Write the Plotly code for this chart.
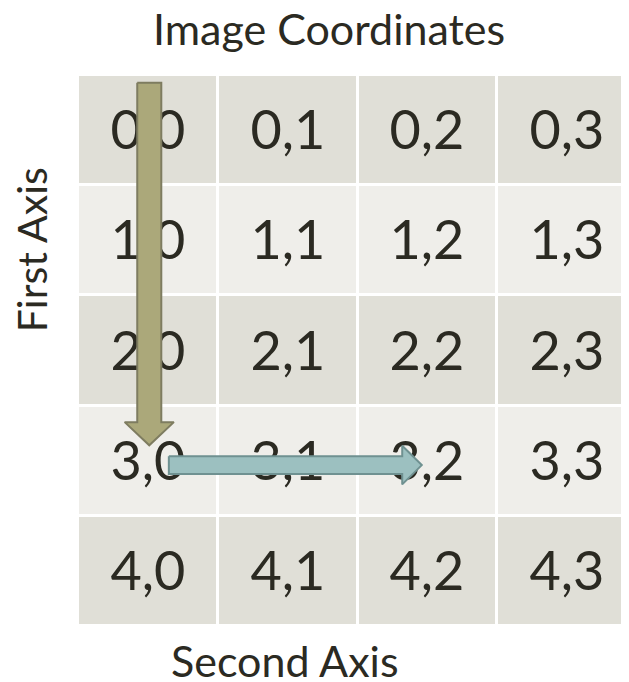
import plotly.graph_objects as go

# grid of image coordinates (row, column)
rows = [0, 1, 2, 3, 4]
cols = [0, 1, 2, 3]
cell_labels = [[f"{r},{c}" for c in cols] for r in rows]
row_shade = [[r % 2 for c in cols] for r in rows]  # 0 = darker band, 1 = lighter band

# arrows: (start cell, end cell)
first_axis_arrow = {"col": 0, "row_from": 0, "row_to": 3}
second_axis_arrow = {"row": 3, "col_from": 0, "col_to": 2}

FONT = "Lato"
TEXT_COLOR = "#2b2a22"

fig = go.Figure()

fig.add_trace(go.Heatmap(
    z=row_shade,
    x=cols,
    y=rows,
    text=cell_labels,
    texttemplate="%{text}",
    textfont=dict(family=FONT, size=54, color=TEXT_COLOR),
    colorscale=[[0, "#e0dfd7"], [1, "#efeeea"]],
    showscale=False,
    xgap=3,
    ygap=3,
    hoverinfo="skip",
))


def arrow_polygon(x0, x1, y0, y1, shaft, head, head_len, vertical):
    # polygon of a block arrow going from (x0,y0) to (x1,y1)
    if vertical:
        xc = x0
        pts = [(xc - shaft, y0), (xc + shaft, y0), (xc + shaft, y1 - head_len),
               (xc + head, y1 - head_len), (xc, y1), (xc - head, y1 - head_len),
               (xc - shaft, y1 - head_len), (xc - shaft, y0)]
    else:
        yc = y0
        pts = [(x0, yc - shaft), (x1 - head_len, yc - shaft), (x1 - head_len, yc - head),
               (x1, yc), (x1 - head_len, yc + head), (x1 - head_len, yc + shaft),
               (x0, yc + shaft), (x0, yc - shaft)]
    return [p[0] for p in pts], [p[1] for p in pts]


# vertical arrow along the first axis
a = first_axis_arrow
vx, vy = arrow_polygon(a["col"] + 0.01, a["col"] + 0.01,
                       a["row_from"] - 0.43, a["row_to"] - 0.14,
                       0.086, 0.176, 0.21, True)
fig.add_trace(go.Scatter(x=vx, y=vy, fill="toself", fillcolor="#aba87a",
                         line=dict(color="#7e7c60", width=2), mode="lines",
                         hoverinfo="skip", showlegend=False))

# horizontal arrow along the second axis
b = second_axis_arrow
hx, hy = arrow_polygon(b["col_from"] + 0.15, b["col_to"] - 0.04,
                       b["row"] + 0.04, b["row"] + 0.04,
                       0.08, 0.175, 0.14, False)
fig.add_trace(go.Scatter(x=hx, y=hy, fill="toself", fillcolor="#9cc0c0",
                         line=dict(color="#6f9191", width=2), mode="lines",
                         hoverinfo="skip", showlegend=False))

fig.update_xaxes(range=[-0.5, 3.5], visible=False, fixedrange=True)
fig.update_yaxes(range=[4.5, -0.5], visible=False, fixedrange=True)

label_font = dict(family=FONT, size=43, color=TEXT_COLOR)
fig.add_annotation(text="Image Coordinates", x=0.449, y=1.085, xref="paper", yref="paper",
                   xanchor="center", yanchor="middle", showarrow=False, font=label_font)
fig.add_annotation(text="First Axis", x=-0.084, y=0.682, xref="paper", yref="paper",
                   xanchor="center", yanchor="middle", textangle=-90, showarrow=False,
                   font=dict(family=FONT, size=41, color=TEXT_COLOR))
fig.add_annotation(text="Second Axis", x=0.370, y=-0.062, xref="paper", yref="paper",
                   xanchor="center", yanchor="middle", showarrow=False, font=label_font)

# the page adds an 8px body margin, so the figure is offset by 8px in the window
fig.update_layout(
    width=629,
    height=682,
    margin=dict(l=70, r=0, t=67, b=64),
    paper_bgcolor="white",
    plot_bgcolor="white",
    showlegend=False,
)

fig.write_html("out.html")
